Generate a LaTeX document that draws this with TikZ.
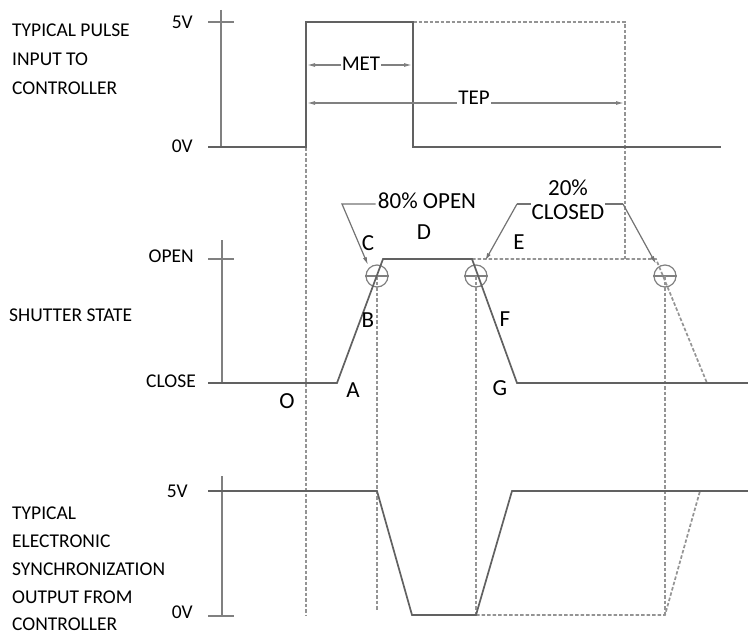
\documentclass[tikz,border=0pt]{standalone}
\usepackage{fontspec}
\setmainfont{Carlito}
\usetikzlibrary{arrows.meta}
\begin{document}
\begin{tikzpicture}[x=1pt,y=-1pt,
  sig/.style={draw=black!62, line width=1.7pt},
  axisline/.style={draw=black!50, line width=1.7pt},
  ghost/.style={draw=black!42, line width=1.7pt, dash pattern=on 3.5pt off 2pt},
  dim/.style={draw=black!50, line width=1.2pt, {Latex[length=8pt,width=4pt]}-{Latex[length=8pt,width=4pt]}},
  lead/.style={draw=black!55, line width=1.2pt, -{Latex[length=8pt,width=4pt]}},
  lbl/.style={font=\fontsize{19.5}{23}\selectfont, inner sep=0pt},
  big/.style={font=\fontsize{23}{24}\selectfont, inner sep=0pt},
  mid/.style={font=\fontsize{21}{24}\selectfont, inner sep=1pt, fill=white},
  circ/.style={circle, draw=black!50, line width=1.2pt, minimum size=22pt, inner sep=0pt}
]
\useasboundingbox (0,0) rectangle (748,634);

% ---------- left labels ----------
\node[lbl, anchor=base west] (t1) at (12,37) {TYPICAL PULSE};
\node[lbl, anchor=base west] (t2) at (12,66) {INPUT TO};
\node[lbl, anchor=base west] (t3) at (12,95) {CONTROLLER};
\node[lbl, anchor=base east] (v5a) at (193,29) {5V};
\node[lbl, anchor=base east] (v0a) at (193,153) {0V};
\node[lbl, anchor=base east] (lopen) at (194,262) {OPEN};
\node[lbl, anchor=base west] (lss) at (9,321) {SHUTTER STATE};
\node[lbl, anchor=base east] (lclose) at (196,387) {CLOSE};
\node[lbl, anchor=base east] (v5b) at (188,497) {5V};
\node[lbl, anchor=base east] (v0b) at (193,618) {0V};
\node[lbl, anchor=base west] (b1) at (12,519) {TYPICAL};
\node[lbl, anchor=base west] (b2) at (12,547) {ELECTRONIC};
\node[lbl, anchor=base west] (b3) at (12,575) {SYNCHRONIZATION};
\node[lbl, anchor=base west] (b4) at (12,603) {OUTPUT FROM};
\node[lbl, anchor=base west] (b5) at (12,630) {CONTROLLER};

% ---------- key coordinates ----------
\coordinate (tA0) at (208,147);
\coordinate (tRise0) at (306,147);
\coordinate (tRise1) at (306,22);
\coordinate (tFall1) at (413,22);
\coordinate (tFall0) at (413,147);
\coordinate (tEnd) at (721,147);
\coordinate (tTEP1) at (625,22);
\coordinate (tTEP0) at (625,260);

\coordinate (mS) at (208,383);
\coordinate (mA) at (337,383);
\coordinate (mC) at (383,259);
\coordinate (mD) at (472,259);
\coordinate (mG) at (517,383);
\coordinate (mEnd) at (748,383);
\coordinate (mD2) at (656,259);
\coordinate (mG2) at (707,383);

\coordinate (bS) at (208,491);
\coordinate (bF1) at (377,491);
\coordinate (bF0) at (412,615);
\coordinate (bR0) at (476,615);
\coordinate (bR1) at (512,491);
\coordinate (bEnd) at (748,491);
\coordinate (bR0b) at (665,615);
\coordinate (bR1b) at (700,491);

% ---------- axes ----------
\draw[axisline] (221,10) coordinate (ax1t) -- (221,147) coordinate (ax1b);
\draw[axisline] (208,22) coordinate (tk1a) -- (234,22) coordinate (tk1b);
\draw[axisline] (222,240) coordinate (ax2t) -- (222,383) coordinate (ax2b);
\draw[axisline] (208,259) coordinate (tk2a) -- (234,259) coordinate (tk2b);
\draw[axisline] (222,476) coordinate (ax3t) -- (222,616) coordinate (ax3b);
\draw[axisline, line width=2.2pt] (208,616) coordinate (tk3a) -- (234,616) coordinate (tk3b);

% ---------- guide circles ----------
\node[circ] (c1) at (377,276) {};
\node[circ] (c2) at (476,276) {};
\node[circ] (c3) at (665,276) {};
\foreach \c in {c1,c2,c3} \draw[draw=black!50, line width=1.2pt] (\c.west) -- (\c.east);

% ---------- dashed guides ----------
\draw[ghost] (tRise0) -- (306,616) coordinate (g1);
\draw[ghost] (c1.center) -- (377,610) coordinate (g2);
\draw[ghost] (c2.center) -- (476,616) coordinate (g3);
\draw[ghost] (c3.center) -- (665,616) coordinate (g4);
\draw[ghost] (tFall1) -- (tTEP1) -- (tTEP0);
\draw[ghost] (mD) -- (mD2) -- (mG2);
\draw[ghost] (bR0) -- (bR0b) -- (bR1b);

% ---------- signals ----------
\draw[sig] (tA0) -- (tRise0) -- (tRise1) -- (tFall1) -- (tFall0) -- (tEnd);
\draw[sig] (mS) -- (mA) -- (mC) -- (mD) -- (mG) -- (mEnd);
\draw[sig] (bS) -- (bF1) -- (bF0) -- (bR0) -- (bR1) -- (bEnd);

% ---------- dimensions ----------
\draw[dim] (307,65) coordinate (metL) -- (412,65) coordinate (metR);
\node[mid] (met) at (361,64) {MET};
\draw[dim] (307,103) coordinate (tepL) -- (624,103) coordinate (tepR);
\node[mid] (tep) at (474,98) {TEP};

% ---------- annotations ----------
\node[big] (p80) at (427,201) {80\% OPEN};
\coordinate (k80) at (342,204);
\draw[lead] (p80.west) ++(-2,3) -- (k80) -- (368,265);

\coordinate (k20a) at (517,204);
\coordinate (k20b) at (623,204);
\draw[lead] (k20a) -- (485,261);
\draw[lead] (k20b) -- (656,264);
\draw[draw=black!55, line width=1.2pt] (k20a) -- (k20b);
\node[big, align=center, fill=white, inner sep=0.5pt] (p20) at (568,200) {20\%\\CLOSED};

\node[big] (lC) at (368,243) {C};
\node[big] (lD) at (424,232) {D};
\node[big] (lB) at (368,320) {B};
\node[big] (lA) at (353,390) {A};
\node[big] (lO) at (287,401) {O};
\node[big] (lE) at (519,242) {E};
\node[big] (lF) at (505,319) {F};
\node[big] (lG) at (500,388) {G};
\end{tikzpicture}
\end{document}
